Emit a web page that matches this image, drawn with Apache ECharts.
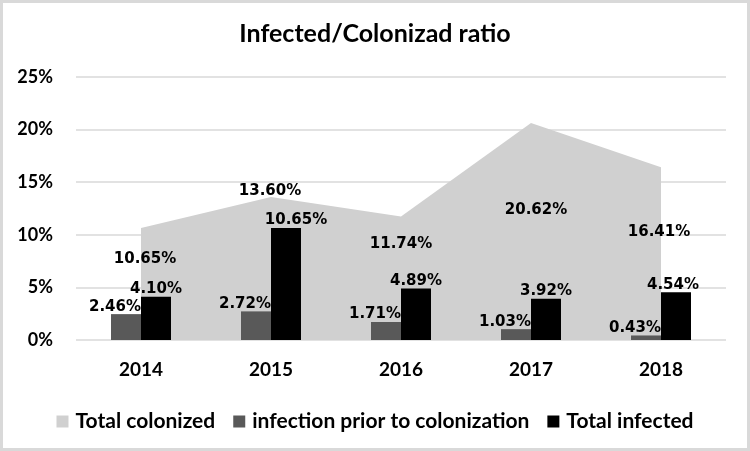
<!DOCTYPE html>
<html>
<head>
<meta charset="utf-8">
<script src="https://cdn.jsdelivr.net/npm/echarts@6/dist/echarts.min.js"></script>
<style>
  html, body { margin: 0; padding: 0; background: #fff; }
  #main { width: 750px; height: 451px; }
</style>
</head>
<body>
<div id="main"></div>
<script>
const years = ['2014', '2015', '2016', '2017', '2018'];
const totalColonized = [10.65, 13.60, 11.74, 20.62, 16.41];
const priorInfection = [2.46, 2.72, 1.71, 1.03, 0.43];
const totalInfected = [4.10, 10.65, 4.89, 3.92, 4.54];
const seriesNames = ['Total colonized', 'infection prior to colonization', 'Total infected'];

// where Excel put the labels (shift from the default spot)
const colonizedLabelShift = [[4, 44], [-1, 7], [0, 40], [5, 100], [-2, 77]];
const infectedLabelShift = [[0, 0], [10, 0], [0, 0], [0, 0], [-3, 0]];

const pct = (p) => p.value.toFixed(2) + '%';
const labelFont = {
  show: true,
  color: '#000',
  fontFamily: 'DejaVu Sans',
  fontWeight: 'bold',
  fontSize: 15,
  formatter: pct
};

const chart = echarts.init(document.getElementById('main'));

chart.setOption({
  animation: false,
  backgroundColor: '#fff',
  textStyle: { fontFamily: 'Lato' },
  graphic: [{
    type: 'rect',
    shape: { x: 1.5, y: 1.5, width: 747, height: 448 },
    style: { fill: 'none', stroke: '#d9d9d9', lineWidth: 3 },
    silent: true
  }],
  title: {
    text: 'Infected/Colonizad ratio',
    left: 'center',
    top: 21,
    padding: 0,
    textStyle: { fontFamily: 'Lato', fontWeight: 'bold', fontSize: 25, color: '#000' }
  },
  legend: {
    top: 406,
    left: 'center',
    itemWidth: 12,
    itemHeight: 12,
    itemGap: 18,
    textStyle: { fontFamily: 'Lato', fontWeight: 'bold', fontSize: 21, color: '#000', padding: [0, 0, 0, 2] },
    data: seriesNames.map(n => ({ name: n, icon: 'rect' }))
  },
  grid: { left: 76, right: 24, top: 77, bottom: 111 },
  xAxis: {
    type: 'category',
    data: years,
    axisLine: { show: false },
    axisTick: { show: false },
    axisLabel: { margin: 20, fontFamily: 'Lato', fontWeight: 'bold', fontSize: 19, color: '#000' }
  },
  yAxis: {
    type: 'value',
    min: 0,
    max: 25,
    interval: 5,
    axisLine: { show: false },
    axisTick: { show: false },
    splitLine: { lineStyle: { color: '#d9d9d9', width: 1.5 } },
    axisLabel: { margin: 23, formatter: '{value}%', fontFamily: 'Lato', fontWeight: 'bold', fontSize: 18, color: '#000' }
  },
  series: [
    {
      name: seriesNames[0],
      type: 'line',
      symbol: 'circle',
      symbolSize: 0,
      itemStyle: { color: '#d0d0d0' },
      lineStyle: { color: '#d0d0d0', width: 0 },
      areaStyle: { color: '#d0d0d0', opacity: 1 },
      label: Object.assign({ position: 'top' }, labelFont),
      data: totalColonized.map((v, i) => ({ value: v, label: { offset: colonizedLabelShift[i] } })),
      z: 1
    },
    {
      name: seriesNames[1],
      type: 'bar',
      barWidth: 30,
      barGap: '0%',
      itemStyle: { color: '#595959' },
      label: Object.assign({ position: 'top', distance: 0, offset: [-11, 0] }, labelFont),
      data: priorInfection,
      z: 3
    },
    {
      name: seriesNames[2],
      type: 'bar',
      barWidth: 30,
      barGap: '0%',
      itemStyle: { color: '#000' },
      label: Object.assign({ position: 'top', distance: 0 }, labelFont),
      data: totalInfected.map((v, i) => ({ value: v, label: { offset: infectedLabelShift[i] } })),
      z: 3
    }
  ]
});
</script>
</body>
</html>
